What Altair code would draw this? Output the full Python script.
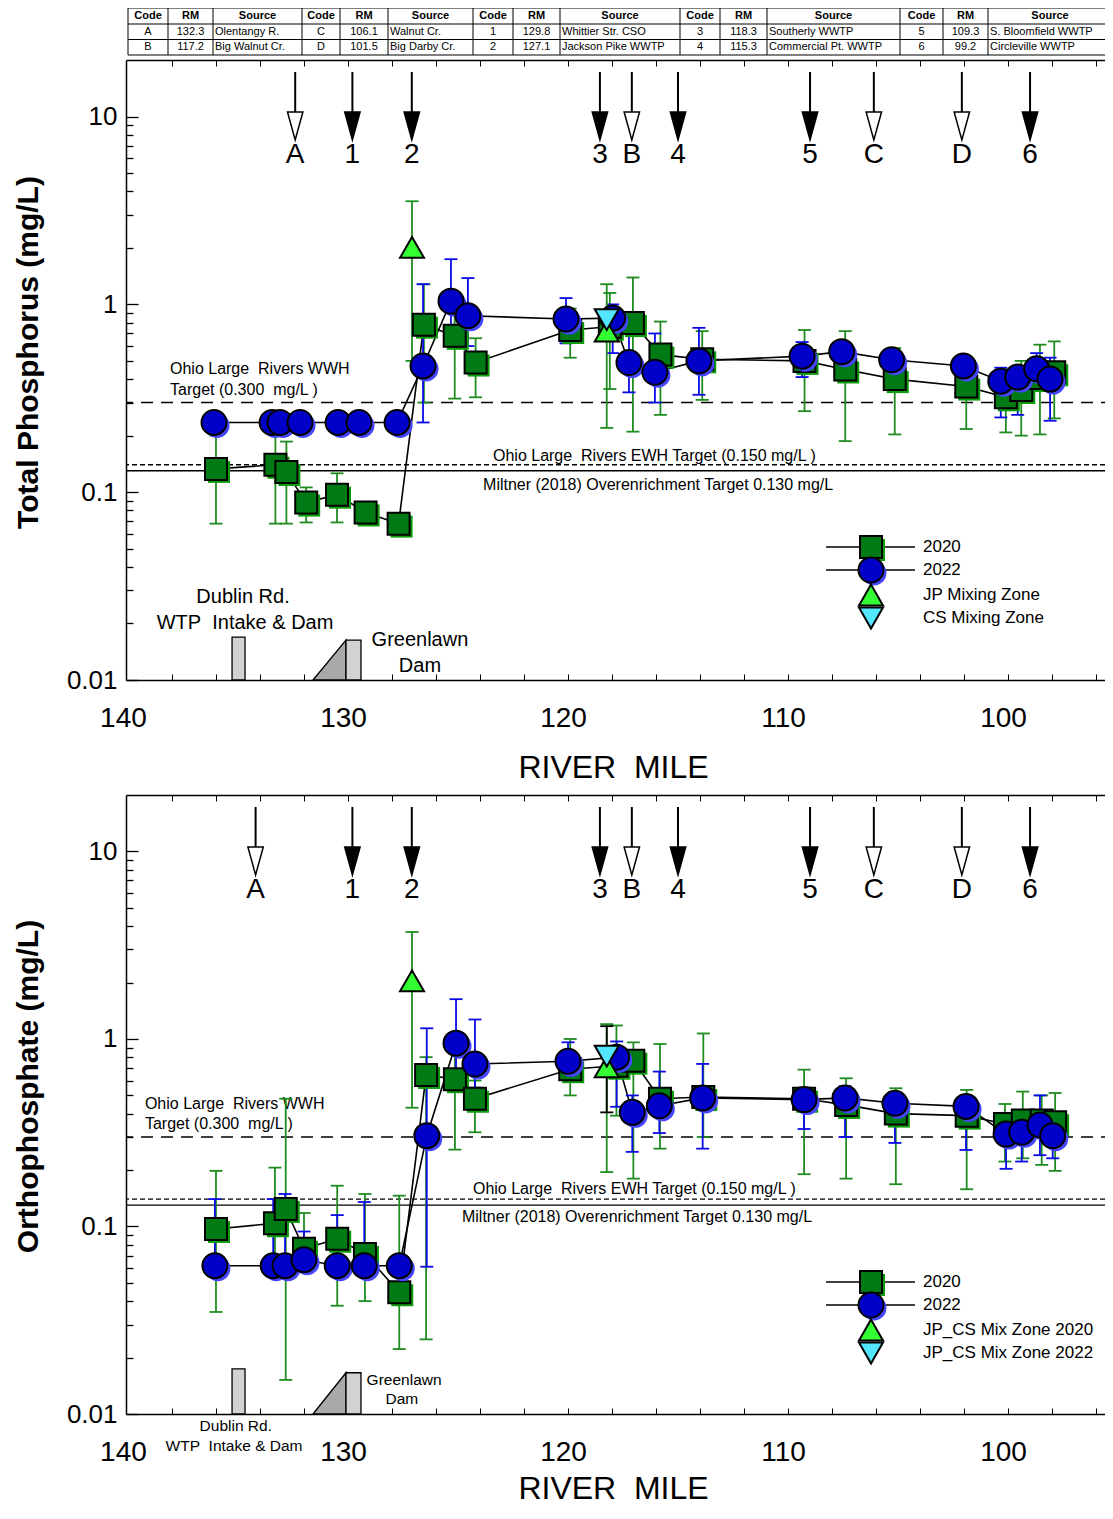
import altair as alt
import pandas as pd

# ======================= DATA =======================
# Source table
tbl_code = ["A", "B", "C", "D", "1", "2", "3", "4", "5", "6"]
tbl_rm = ["132.3", "117.2", "106.1", "101.5", "129.8", "127.1", "118.3", "115.3", "109.3", "99.2"]
tbl_src = ["Olentangy R.", "Big Walnut Cr.", "Walnut Cr.", "Big Darby Cr.",
           "Whittier Str. CSO", "Jackson Pike WWTP", "Southerly WWTP",
           "Commercial Pt. WWTP", "S. Bloomfield WWTP", "Circleville WWTP"]
tbl_head = ["Code", "RM", "Source"]

# axis ticks
x_labels = [140, 130, 120, 110, 100]
x_minor = [138, 136, 134, 132, 130, 128, 126, 124, 122, 120, 118, 116, 114, 112,
           110, 108, 106, 104, 102, 100, 98, 96]
y_labels = [0.01, 0.1, 1, 10]
y_minor = [0.02, 0.03, 0.04, 0.05, 0.06, 0.07, 0.08, 0.09,
           0.2, 0.3, 0.4, 0.5, 0.6, 0.7, 0.8, 0.9,
           2, 3, 4, 5, 6, 7, 8, 9]

# arrows (river mile)
arrow_lab = ["A", "1", "2", "3", "B", "4", "5", "C", "D", "6"]
arrow_open = [True, False, False, False, True, False, False, True, True, False]
arrow_rm_tp = [132.4, 129.8, 127.1, 118.55, 117.1, 115.0, 109.0, 106.1, 102.1, 99.0]
arrow_rm_op = [134.2, 129.8, 127.1, 118.55, 117.1, 115.0, 109.0, 106.1, 102.1, 99.0]

# target lines (mg/L)
target_wwh = 0.300
target_ewh = 0.140
target_miltner = 0.130

# ---- Total phosphorus ----
tp20_rm = [136.0, 133.3, 132.8, 131.9, 130.5, 129.2, 127.7, 126.55, 125.15, 124.2, 119.9, 118.1,
           117.05, 115.8, 113.9, 109.25, 107.4, 105.15, 101.9, 100.1, 99.4, 98.55, 97.9]
tp20_v = [0.133, 0.14, 0.128, 0.088, 0.097, 0.078, 0.068, 0.78, 0.68, 0.49, 0.73, 0.76,
          0.795, 0.54, 0.51, 0.50, 0.45, 0.40, 0.365, 0.32, 0.35, 0.405, 0.435]
tp20_lo = [0.068, 0.068, 0.068, 0.069, 0.069, 0.078, 0.068, 0.30, 0.315, 0.32, 0.52, 0.354,
           0.21, 0.258, 0.31, 0.27, 0.187, 0.203, 0.217, 0.208, 0.20, 0.203, 0.247]
tp20_hi = [0.20, 0.24, 0.186, 0.106, 0.126, 0.078, 0.068, 1.28, 1.0, 0.66, 0.95, 1.15,
           1.39, 0.81, 0.72, 0.73, 0.72, 0.585, 0.45, 0.45, 0.50, 0.61, 0.635]

tp22_rm = [136.09, 133.45, 133.09, 132.18, 130.45, 129.5, 127.77, 126.59, 125.32, 124.55, 120.09, 117.97,
           117.23, 116.05, 114.05, 109.36, 107.56, 105.29, 102.03, 100.33, 99.56, 98.7, 98.09]
tp22_v = [0.235, 0.235, 0.235, 0.235, 0.235, 0.235, 0.235, 0.47, 1.04, 0.87, 0.835, 0.845,
          0.49, 0.435, 0.50, 0.53, 0.56, 0.507, 0.47, 0.39, 0.41, 0.454, 0.40]
tp22_lo = [0.235, 0.235, 0.235, 0.235, 0.235, 0.235, 0.235, 0.235, 0.62, 0.60, 0.62, 0.55,
           0.34, 0.30, 0.33, 0.41, 0.50, 0.45, 0.42, 0.25, 0.258, 0.40, 0.24]
tp22_hi = [0.235, 0.235, 0.235, 0.235, 0.235, 0.235, 0.235, 1.28, 1.74, 1.38, 1.08, 1.00,
           0.70, 0.70, 0.75, 0.63, 0.62, 0.56, 0.52, 0.46, 0.47, 0.55, 0.52]

tpjp_rm = [127.09, 118.24]
tpjp_v = [2.01, 0.72]
tpjp_lo = [0.50, 0.22]
tpjp_hi = [3.54, 1.28]
tpcs_rm = [118.24]
tpcs_v = [0.83]
tpcs_lo = [0.83]
tpcs_hi = [0.83]

# ---- Orthophosphate ----
op20_rm = [136.0, 133.32, 132.83, 132.0, 130.49, 129.23, 127.67, 126.45, 125.14, 124.23, 119.9, 117.8,
           117.03, 115.82, 113.85, 109.27, 107.36, 105.1, 101.88, 100.14, 99.33, 98.47, 97.86]
op20_v = [0.097, 0.104, 0.124, 0.076, 0.086, 0.0714, 0.0446, 0.643, 0.61, 0.48, 0.69, 0.72,
          0.766, 0.48, 0.49, 0.48, 0.445, 0.40, 0.39, 0.352, 0.367, 0.367, 0.36]
op20_lo = [0.035, 0.06, 0.0152, 0.06, 0.0378, 0.040, 0.0222, 0.025, 0.257, 0.318, 0.50, 0.39,
           0.18, 0.26, 0.30, 0.19, 0.18, 0.168, 0.158, 0.222, 0.231, 0.213, 0.198]
op20_hi = [0.198, 0.206, 0.48, 0.118, 0.165, 0.149, 0.146, 0.80, 0.90, 0.60, 1.0, 1.18,
           0.96, 0.94, 1.07, 0.686, 0.617, 0.546, 0.535, 0.45, 0.524, 0.50, 0.515]

op22_rm = [136.05, 133.4, 132.86, 132.0, 130.49, 129.26, 127.67, 126.42, 125.09, 124.23, 120.0, 117.79,
           117.08, 115.85, 113.88, 109.27, 107.41, 105.14, 101.91, 100.09, 99.38, 98.55, 97.97]
op22_v = [0.0618, 0.0618, 0.0618, 0.0665, 0.0618, 0.0618, 0.0618, 0.305, 0.95, 0.735, 0.76, 0.80,
          0.406, 0.44, 0.485, 0.475, 0.485, 0.454, 0.437, 0.311, 0.318, 0.348, 0.305]
op22_lo = [0.055, 0.055, 0.055, 0.06, 0.055, 0.055, 0.055, 0.061, 0.60, 0.55, 0.65, 0.435,
           0.25, 0.315, 0.26, 0.331, 0.30, 0.279, 0.256, 0.203, 0.222, 0.24, 0.231]
op22_hi = [0.14, 0.14, 0.149, 0.094, 0.115, 0.135, 0.068, 1.14, 1.63, 1.27, 0.96, 0.97,
           0.50, 0.67, 0.736, 0.55, 0.56, 0.52, 0.50, 0.36, 0.37, 0.50, 0.36]

opjp_rm = [127.09, 118.24]
opjp_v = [2.04, 0.71]
opjp_lo = [0.43, 0.195]
opjp_hi = [3.72, 1.20]
opcs_rm = [118.24]
opcs_v = [0.81]
opcs_lo = [0.406]
opcs_hi = [1.17]

# dams (river mile extents, top heights in mg/L units of each panel)
dublin_rm = [135.27, 134.68]
greenlawn_rm = [131.59, 130.09, 129.41]
dam_top_tp = [0.0169, 0.0163]
dam_top_op = [0.0174, 0.0166]

leg_tp = ["2020", "2022", "JP Mixing Zone", "CS Mixing Zone"]
leg_op = ["2020", "2022", "JP_CS Mix Zone 2020", "JP_CS Mix Zone 2022"]

# ======================= STYLE / LAYOUT =======================
FONT = "Liberation Sans"
G_FILL, G_SHAD = "#007a14", "#0c9c0c"
B_FILL, B_SHAD = "#0000c8", "#4646ff"
TRI_G, TRI_C = "#33ff33", "#55e6ff"
G_ERR, B_ERR = "#1f8c1f", "#0a0ae6"
DAM_HATCH, DAM_GRAY = "#d2d2d2", "#a9a9a9"

W = 987
H_TP, H_OP, GAP = 620, 619, 115
PAD_L, PAD_T, PAD_R, PAD_B = 118, 52, -8, 1445
XS = alt.Scale(domain=[140.09, 95.23], nice=False, zero=False)
YS = alt.Scale(type="log", domain=[0.01, 20], nice=False)
ONE = pd.DataFrame({"rm": [120.0], "v": [1.0]})

col_edges = [2, 42, 87, 176, 214, 262, 347, 387, 434, 554, 594, 641, 774, 817, 862, 986]
row_edges = [-52, -36, -20.5, -5]
row_mid = [-44, -28.2, -12.7]
LEG_Y = [487, 510, 535, 558]
LEG_MX, LEG_L1, LEG_L2, LEG_TX = 745, 700, 789, 797


def X(f):
    return alt.X(f"{f}:Q", scale=XS, axis=None)


def Y(f):
    return alt.Y(f"{f}:Q", scale=YS, axis=None)


def PX(f):
    return alt.X(f"{f}:Q", scale=None, axis=None)


def PY(f):
    return alt.Y(f"{f}:Q", scale=None, axis=None)


def axis_layers(ytitle, title_y, xtitle_y):
    c = alt.Chart(ONE)

    def pt(xax, yax):
        return c.mark_point(opacity=0).encode(
            x=alt.X("rm:Q", scale=XS, axis=xax), y=alt.Y("v:Q", scale=YS, axis=yax))

    tk = dict(grid=False, labels=False, domain=False, title=None, ticks=True, tickColor="black")
    l1 = pt(alt.Axis(orient="bottom", values=x_labels, format="d", grid=False, ticks=False, tickSize=0,
                     domain=True, domainColor="black", domainWidth=1.5,
                     labelFont=FONT, labelFontSize=28, labelColor="black", labelPadding=24,
                     labelOffset=-5, labelFlush=False, labelOverlap=False,
                     title="RIVER\u00a0 MILE", titleFont=FONT, titleFontSize=32,
                     titleFontWeight="normal", titleColor="black", titleX=487, titleY=xtitle_y,
                     titleBaseline="middle"),
            alt.Axis(orient="left", values=y_labels, format="~g", grid=False, ticks=False, tickSize=0,
                     domain=True, domainColor="black", domainWidth=1.5,
                     labelFont=FONT, labelFontSize=26, labelColor="black", labelPadding=9,
                     labelFlush=False, labelOverlap=False,
                     title=ytitle, titleFont=FONT, titleFontSize=30, titleFontWeight="bold",
                     titleColor="black", titleX=-98, titleY=title_y, titleBaseline="middle",
                     titleAngle=270))
    l2 = pt(alt.Axis(orient="bottom", values=x_minor, tickSize=6, offset=-6, tickWidth=1, **tk),
            alt.Axis(orient="left", values=y_labels, tickSize=12, offset=-12, tickWidth=1.3, **tk))
    l3 = pt(alt.Axis(orient="top", values=x_minor, tickSize=6, offset=-6, tickWidth=1, **tk),
            alt.Axis(orient="left", values=y_minor, tickSize=7, offset=-7, tickWidth=1.3, **tk))
    l4 = pt(alt.Axis(orient="top", values=x_labels, grid=False, labels=False, ticks=False,
                     domain=True, domainColor="black", domainWidth=1.5, title=None),
            alt.Axis(orient="right", values=y_labels, tickSize=7, offset=-7, tickWidth=1.3, **tk))
    l5 = c.mark_point(opacity=0).encode(
        y=alt.Y("v:Q", scale=YS, axis=alt.Axis(orient="right", values=y_minor, tickSize=2,
                                                offset=-2, tickWidth=1.3, **tk)))
    return [l1, l2, l3, l4, l5]


def sdf(rm, v, lo, hi):
    return pd.DataFrame({"rm": rm, "v": v, "lo": lo, "hi": hi})


def err_layers(df, color, w=1.8, cap=13):
    c = alt.Chart(df)
    return [
        c.mark_rule(color=color, strokeWidth=w).encode(x=X("rm"), y=Y("lo"), y2=alt.Y2("hi:Q")),
        c.mark_tick(color=color, thickness=w, size=cap, orient="horizontal", opacity=1).encode(
            x=X("rm"), y=Y("lo")),
        c.mark_tick(color=color, thickness=w, size=cap, orient="horizontal", opacity=1).encode(
            x=X("rm"), y=Y("hi")),
    ]


def marker_layers(df, shape, fill, shadow, size):
    c = alt.Chart(df)
    out = []
    if shadow:
        out.append(c.mark_point(shape=shape, filled=True, color=shadow, size=size, opacity=1,
                                strokeWidth=0, xOffset=3, yOffset=3).encode(x=X("rm"), y=Y("v")))
    out.append(c.mark_point(shape=shape, filled=True, color=fill, stroke="black", strokeWidth=2,
                            size=size, opacity=1).encode(x=X("rm"), y=Y("v")))
    return out


def table_layers():
    cells = []
    for g in range(5):
        e0, e1, e2, e3 = col_edges[3 * g:3 * g + 4]
        for txt, a, b in zip(tbl_head, (e0, e1, e2), (e1, e2, e3)):
            cells.append(dict(px=(a + b) / 2, py=row_mid[0], t=txt, k="h"))
        for r in range(2):
            i = 2 * g + r
            cells.append(dict(px=(e0 + e1) / 2, py=row_mid[r + 1], t=tbl_code[i], k="c"))
            cells.append(dict(px=(e1 + e2) / 2, py=row_mid[r + 1], t=tbl_rm[i], k="c"))
            cells.append(dict(px=e2 + 2, py=row_mid[r + 1], t=tbl_src[i], k="l"))
    cdf = pd.DataFrame(cells)
    hl = pd.DataFrame({"x1": [col_edges[0]] * len(row_edges), "x2": [col_edges[-1]] * len(row_edges),
                       "y": row_edges})
    vl = pd.DataFrame({"x": col_edges, "y1": [row_edges[0]] * len(col_edges),
                       "y2": [row_edges[-1]] * len(col_edges)})
    return [
        alt.Chart(hl).mark_rule(color="black", strokeWidth=1).encode(
            x=PX("x1"), x2=alt.X2("x2:Q"), y=PY("y")),
        alt.Chart(vl).mark_rule(color="black", strokeWidth=1).encode(
            x=PX("x"), y=PY("y1"), y2=alt.Y2("y2:Q")),
        alt.Chart(cdf[cdf.k == "h"]).mark_text(font=FONT, fontSize=11, fontWeight="bold",
                                               color="black", baseline="middle").encode(
            x=PX("px"), y=PY("py"), text="t:N"),
        alt.Chart(cdf[cdf.k == "c"]).mark_text(font=FONT, fontSize=11, color="black",
                                               baseline="middle").encode(
            x=PX("px"), y=PY("py"), text="t:N"),
        alt.Chart(cdf[cdf.k == "l"]).mark_text(font=FONT, fontSize=11, color="black",
                                               baseline="middle", align="left").encode(
            x=PX("px"), y=PY("py"), text="t:N"),
    ]


ARROW = "M-0.55,-1L0.55,-1L0,1Z"


def arrow_layers(rms):
    df = pd.DataFrame({"rm": rms, "lab": arrow_lab, "open": arrow_open})
    c = alt.Chart(df)
    return [
        c.mark_rule(color="black", strokeWidth=2).encode(x=X("rm"), y=alt.value(12), y2=alt.value(56)),
        c.mark_point(shape=ARROW, size=784, filled=True, stroke="black", strokeWidth=1.5,
                     opacity=1).encode(
            x=X("rm"), y=alt.value(66),
            fill=alt.condition("datum.open", alt.value("white"), alt.value("black"))),
        c.mark_text(font=FONT, fontSize=28, color="black", baseline="middle").encode(
            x=X("rm"), y=alt.value(95), text="lab:N"),
    ]


def legend_layers(labels):
    c = alt.Chart(ONE)
    out = []
    spec = [("square", G_FILL, G_SHAD, 484, True), ("circle", B_FILL, B_SHAD, 625, True),
            ("triangle-up", TRI_G, None, 576, False), ("triangle-down", TRI_C, None, 576, False)]
    for i, (shape, fill, shad, size, line) in enumerate(spec):
        yy = LEG_Y[i]
        if line:
            out.append(c.mark_rule(color="black", strokeWidth=1.6).encode(
                x=alt.value(LEG_L1), x2=alt.value(LEG_L2), y=alt.value(yy)))
        if shad:
            out.append(c.mark_point(shape=shape, filled=True, color=shad, size=size, opacity=1,
                                    strokeWidth=0, xOffset=3, yOffset=3).encode(
                x=alt.value(LEG_MX), y=alt.value(yy)))
        out.append(c.mark_point(shape=shape, filled=True, color=fill, stroke="black", strokeWidth=2,
                                size=size, opacity=1).encode(x=alt.value(LEG_MX), y=alt.value(yy)))
        out.append(c.mark_text(text=labels[i], font=FONT, fontSize=17, color="black", align="left",
                               baseline="middle").encode(x=alt.value(LEG_TX), y=alt.value(yy)))
    return out


def target_layers(texts, tsize=16):
    out = []
    for val, dash in ((target_wwh, [12, 8]), (target_ewh, [5, 3]), (target_miltner, None)):
        kw = dict(color="black", strokeWidth=1.4)
        if dash:
            kw["strokeDash"] = dash
        out.append(alt.Chart(pd.DataFrame({"v": [val]})).mark_rule(**kw).encode(y=Y("v")))
    tdf = pd.DataFrame(texts, columns=["t", "rm", "v"])
    out.append(alt.Chart(tdf).mark_text(font=FONT, fontSize=tsize, color="black", align="left",
                                        baseline="middle").encode(x=X("rm"), y=Y("v"), text="t:N"))
    return out


def dam_layers(tops, labels, lsize):
    d = pd.DataFrame({"x1": [dublin_rm[0]], "x2": [dublin_rm[1]], "y1": [0.01], "y2": [tops[0]]})
    gtri = pd.DataFrame({"rm": greenlawn_rm[:2], "v": [0.01, tops[1]], "b": [0.01, 0.01]})
    grect = pd.DataFrame({"x1": [greenlawn_rm[1]], "x2": [greenlawn_rm[2]], "y1": [0.01], "y2": [tops[1]]})
    ldf = pd.DataFrame(labels, columns=["t", "rm", "v"])
    return [
        alt.Chart(d).mark_rect(fill=DAM_HATCH, stroke="black", strokeWidth=1.3).encode(
            x=X("x1"), x2=alt.X2("x2:Q"), y=Y("y1"), y2=alt.Y2("y2:Q")),
        alt.Chart(gtri).mark_area(fill=DAM_GRAY, stroke="black", strokeWidth=1.3, opacity=1).encode(
            x=X("rm"), y=Y("v"), y2=alt.Y2("b:Q")),
        alt.Chart(grect).mark_rect(fill=DAM_HATCH, stroke="black", strokeWidth=1.3).encode(
            x=X("x1"), x2=alt.X2("x2:Q"), y=Y("y1"), y2=alt.Y2("y2:Q")),
        alt.Chart(ldf).mark_text(font=FONT, fontSize=lsize, color="black", baseline="middle").encode(
            x=X("rm"), y=Y("v"), text="t:N"),
    ]


def line_layer(df):
    return alt.Chart(df).mark_line(color="black", strokeWidth=1.6).encode(x=X("rm"), y=Y("v"))


def panel(ytitle, title_y, xtitle_y, h, d20, d22, djp, dcs, cs_err_color, arrows, legend, ttexts,
          dtops, dlabels, dsize, with_table):
    layers = axis_layers(ytitle, title_y, xtitle_y)
    if with_table:
        layers += table_layers()
    layers += target_layers(ttexts)
    layers += dam_layers(dtops, dlabels, dsize)
    layers += arrow_layers(arrows)
    layers += [line_layer(d20), line_layer(d22)]
    layers += err_layers(d20, G_ERR) + err_layers(d22, B_ERR)
    layers += err_layers(djp, G_ERR) + err_layers(dcs, cs_err_color)
    layers += marker_layers(d20, "square", G_FILL, G_SHAD, 484)
    layers += marker_layers(d22, "circle", B_FILL, B_SHAD, 625)
    layers += marker_layers(djp, "triangle-up", TRI_G, None, 576)
    layers += marker_layers(dcs, "triangle-down", TRI_C, None, 576)
    layers += legend_layers(legend)
    return alt.layer(*layers).properties(width=W, height=h).resolve_axis(x="independent", y="independent")


top = panel(
    "Total Phosphorus (mg/L)", 292, 87, H_TP,
    sdf(tp20_rm, tp20_v, tp20_lo, tp20_hi), sdf(tp22_rm, tp22_v, tp22_lo, tp22_hi),
    sdf(tpjp_rm, tpjp_v, tpjp_lo, tpjp_hi), sdf(tpcs_rm, tpcs_v, tpcs_lo, tpcs_hi), B_ERR,
    arrow_rm_tp, leg_tp,
    [("Ohio Large\u00a0 Rivers WWH", 138.09, 0.45), ("Target (0.300\u00a0 mg/L )", 138.09, 0.348),
     ("Ohio Large\u00a0 Rivers EWH Target (0.150 mg/L )", 123.41, 0.155),
     ("Miltner (2018) Overenrichment Target 0.130 mg/L", 123.86, 0.1096)],
    dam_top_tp,
    [("Dublin Rd.", 134.77, 0.0277), ("WTP\u00a0 Intake & Dam", 134.68, 0.0201),
     ("Greenlawn", 126.73, 0.0163), ("Dam", 126.73, 0.0119)], 20, True)

bot = panel(
    "Orthophosphate (mg/L)", 291, 74, H_OP,
    sdf(op20_rm, op20_v, op20_lo, op20_hi), sdf(op22_rm, op22_v, op22_lo, op22_hi),
    sdf(opjp_rm, opjp_v, opjp_lo, opjp_hi), sdf(opcs_rm, opcs_v, opcs_lo, opcs_hi), "black",
    arrow_rm_op, leg_op,
    [("Ohio Large\u00a0 Rivers WWH", 139.23, 0.45), ("Target (0.300\u00a0 mg/L )", 139.23, 0.352),
     ("Ohio Large\u00a0 Rivers EWH Target (0.150 mg/L )", 124.32, 0.158),
     ("Miltner (2018) Overenrichment Target 0.130 mg/L", 124.82, 0.112)],
    dam_top_op,
    [("Greenlawn", 127.45, 0.0152), ("Dam", 127.55, 0.012),
     ("Dublin Rd.", 135.1, 0.00863), ("WTP\u00a0 Intake & Dam", 135.18, 0.00675)], 15.5, False)

chart = alt.vconcat(top, bot, spacing=GAP, bounds="flush").properties(
    autosize=alt.AutoSizeParams(type="none"),
    padding={"left": PAD_L, "top": PAD_T, "right": PAD_R, "bottom": PAD_B},
).configure_view(stroke="transparent")

chart.save("out.html", embed_options={"renderer": "svg", "actions": False})
